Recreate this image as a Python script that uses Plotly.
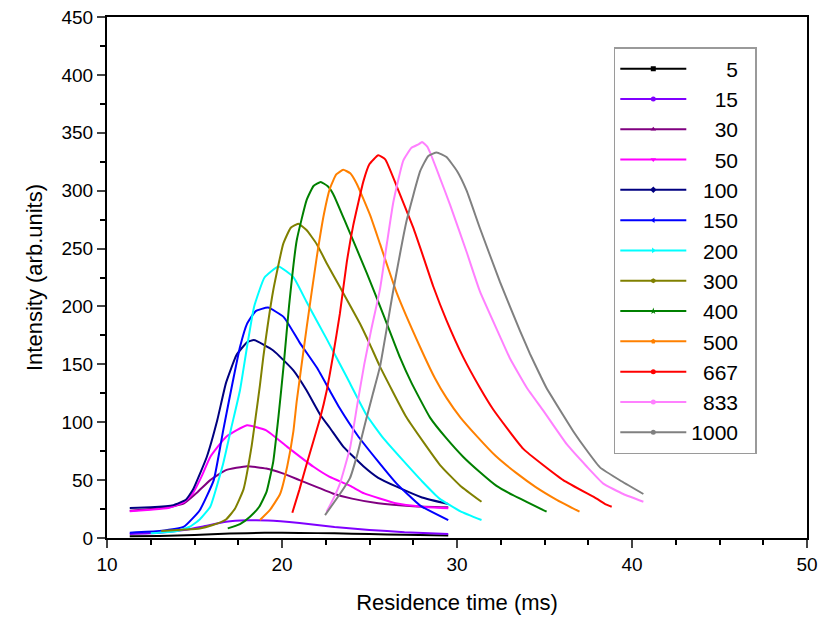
import plotly.graph_objects as go

# ---------------- data ----------------
names = ["5", "15", "30", "50", "100", "150", "200", "300", "400", "500", "667", "833", "1000"]
colors = ["#000000", "#8000FF", "#800080", "#FF00FF", "#000080", "#0000FF", "#00FFFF",
          "#808000", "#008000", "#FF8000", "#FF0000", "#FF80FF", "#808080"]
symbols = ["square", "circle", "triangle-up", "triangle-down", "diamond", "triangle-left",
           "triangle-right", "hexagon", "star", "pentagon", "circle", "circle", "circle"]

x_5 = [11.3, 13, 15, 17, 19, 21, 23, 25, 27, 29.5]
y_5 = [1.5, 1.8, 2.5, 3.8, 4.5, 4.4, 4.0, 3.4, 2.8, 2.2]

x_15 = [11.3, 13, 14.4, 15.5, 16.8, 18.0, 19.2, 21.0, 23.0, 25, 27, 29.5]
y_15 = [3.4, 4.5, 6.9, 10, 14, 15.3, 15.2, 13, 9.5, 7, 5, 3.5]

x_30 = [11.3, 12.5, 13.5, 14.4, 15.2, 15.9, 16.8, 18.0, 19.1, 20, 21, 22, 22.9, 24.0, 25.5, 27.5, 29.5]
y_30 = [23.5, 25, 26.5, 30, 40, 50, 58.6, 62, 60, 56, 50, 44, 38.5, 34, 30, 27.5, 26.5]

x_50 = [11.3, 12.5, 13.5, 14.4, 14.9, 15.4, 15.9, 16.8, 18.0, 19.1, 20.3, 21.8, 22.7, 23.9, 24.7, 26.5, 28, 29.5]
y_50 = [23, 24.5, 26, 31, 38.5, 53, 70, 87.3, 97.4, 93, 78.7, 61.5, 53, 45, 38.5, 30, 27, 25.6]

x_100 = [11.3, 12.5, 13.8, 14.5, 14.9, 15.7, 16.3, 16.8, 17.4, 18.0, 18.4, 19.5, 20.65, 21.4,
         22.2, 22.74, 23.5, 24.65, 25.5, 26.55, 28, 29.5]
y_100 = [26, 26.5, 28.4, 33, 41.4, 70, 101.7, 134, 158, 169, 171, 162, 144.8, 127.6,
         106, 95, 79, 62, 52, 44.3, 35, 29.3]

x_150 = [11.3, 13, 14.4, 15.3, 16.1, 16.64, 17.2, 17.6, 18.0, 18.5, 19.2, 20.1, 21.0, 22.0,
         22.74, 23.3, 24.3, 25.5, 26.55, 27.9, 29.5]
y_150 = [4.6, 6, 9.8, 24, 50, 93, 136, 165, 185, 196, 199, 190.8, 169, 147,
         127, 112, 89, 66, 47, 28, 15.5]

x_200 = [12.5, 14.0, 14.74, 15.3, 15.9, 16.64, 17.1, 17.6, 18.0, 18.4, 19.0, 19.8, 20.65, 21.4,
         22.55, 23.7, 24.84, 25.8, 26.9, 28, 29.0, 30.2, 31.4]
y_200 = [4, 6, 9.8, 16, 27, 64.4, 95, 127.6, 165, 199.4, 225, 234.5, 225.3, 204,
         172, 139, 106, 86, 67.2, 49, 34, 23, 15.5]

x_300 = [13.1, 14.5, 15.3, 16.0, 16.8, 17.3, 17.8, 18.25, 18.5, 18.74, 18.93, 19.5, 20.07, 20.5,
         20.93, 21.4, 21.98, 22.6, 23.31, 24.46, 25.03, 25.6, 27.12, 29.03, 30.2, 31.4]
y_300 = [6, 7.3, 8.3, 11, 16, 25, 42, 78, 105, 132, 156, 214, 254, 268,
         271.5, 266, 254, 236, 216.7, 185, 167, 148, 104, 63, 45, 31.3]

x_400 = [16.9, 17.6, 18.17, 18.7, 19.12, 19.5, 19.8, 20.1, 20.4, 20.84, 21.41, 21.8, 22.21, 22.6,
         22.93, 23.7, 24.84, 25.79, 26.74, 27.4, 28.46, 29.4, 30.36, 31.3, 32.26, 33.2, 35.12]
y_400 = [8.3, 12, 18.4, 27, 40, 66, 105, 150, 200, 257, 292, 304, 307.5, 304,
         297, 270, 229, 193, 156, 134, 104, 86, 70, 57, 45, 37, 22.7]

x_500 = [18.74, 19.3, 19.89, 20.3, 20.65, 20.84, 21.41, 21.98, 22.4, 22.74, 23.1, 23.5, 23.9,
         24.27, 25.03, 25.6, 26.55, 27.89, 28.74, 29.4, 30.2, 31.13, 32.2, 33.4, 34.5, 35.7, 37.0]
y_500 = [15.5, 24, 38, 62, 92, 118, 182, 242, 280, 302, 314, 318, 315,
         306, 279, 254, 212, 165, 138, 121, 104, 88, 71, 56, 44, 33, 22.7]

x_667 = [20.59, 21.0, 21.41, 22.17, 22.55, 22.9, 23.31, 23.7, 24.07, 24.65, 25.0, 25.5, 25.9,
         26.55, 27.5, 28.07, 28.65, 29.4, 30.36, 31.3, 32.07, 33.79, 36.07, 37.98, 38.5, 38.84]
y_667 = [21.8, 42, 64, 103, 127, 156, 194, 238, 270, 308, 323, 330.5, 327,
         304, 268, 243, 217, 188, 156, 130, 111, 77, 50, 34, 29, 27]

x_833 = [22.55, 23.0, 23.31, 23.89, 24.3, 24.7, 25.1, 25.6, 26.0, 26.36, 26.93, 27.4, 27.8, 28.0,
         28.3, 28.46, 29.0, 29.6, 30.55, 31.31, 32.46, 33.03, 33.98, 34.93, 36.27, 37.4, 38.36,
         39.5, 40.65]
y_833 = [22.7, 36, 47, 78, 115, 150, 180, 215, 255, 290, 326, 337, 340, 342,
         338, 333, 312, 288, 247, 213, 174, 155, 130, 110, 81, 62, 47,
         38, 31.3]

x_1000 = [22.46, 23.31, 23.89, 24.3, 24.8, 25.2, 25.6, 26.36, 27.12, 27.9, 28.36, 28.84, 29.4,
          30.0, 30.55, 31.3, 32.46, 33.6, 34.17, 34.74, 35.1, 36.07, 36.65, 37.4, 38.17, 39.4, 40.65]
y_1000 = [19.8, 38, 52, 72, 102, 125, 148, 214, 274, 317, 330, 333, 329,
          317, 300, 268, 221, 179, 159, 141, 130, 106, 92, 76, 61, 49, 38]

xs = [x_5, x_15, x_30, x_50, x_100, x_150, x_200, x_300, x_400, x_500, x_667, x_833, x_1000]
ys = [y_5, y_15, y_30, y_50, y_100, y_150, y_200, y_300, y_400, y_500, y_667, y_833, y_1000]

x_ticks = [10, 20, 30, 40, 50]
y_ticks = [0, 50, 100, 150, 200, 250, 300, 350, 400, 450]

FONT = "Arial, Liberation Sans, sans-serif"

fig = go.Figure()

# data curves (no legend entries)
for i, (n, c) in enumerate(zip(names, colors)):
    fig.add_trace(go.Scatter(
        x=xs[i], y=ys[i], mode="lines", name=n,
        line=dict(color=c, width=2, shape="spline", smoothing=0.4),
        showlegend=False, legendgroup=n, hoverinfo="x+y+name"))

# legend entries (line with a small marker, as in the original)
pad = max(len(n) for n in names)
for i, (n, c) in enumerate(zip(names, colors)):
    label = "\u2007" * (pad - len(n)) + n + "\u2007"
    fig.add_trace(go.Scatter(
        x=[None], y=[None], mode="lines+markers", name=label,
        line=dict(color=c, width=2),
        marker=dict(color=c, size=5, symbol=symbols[i]),
        legendgroup=n, showlegend=True))

# the page body adds an 8 px offset, so the figure is sized to the visible area
fig.update_layout(
    width=818, height=609,
    margin=dict(l=99, r=19, t=9, b=79, autoexpand=False),
    paper_bgcolor="white", plot_bgcolor="white",
    font=dict(family=FONT, color="black", size=19),
    legend=dict(
        x=0.724, y=0.9424, xanchor="left", yanchor="top",
        bgcolor="white", bordercolor="#9a9a9a", borderwidth=1.5,
        font=dict(family=FONT, size=21, color="black"),
        tracegroupgap=0, traceorder="grouped", itemwidth=66,
    ),
    xaxis=dict(
        range=[10, 50], tickvals=x_ticks, ticks="outside", ticklen=8, tickwidth=2,
        showline=True, linecolor="black", linewidth=2, mirror=True,
        showgrid=False, zeroline=False, automargin=False, ticklabeloverflow="allow",
        minor=dict(dtick=2.5, tick0=10, ticks="outside", ticklen=5, tickwidth=1.5, tickcolor="black"),
        tickfont=dict(size=19),
        title=dict(text="Residence time (ms)", font=dict(size=22), standoff=21),
    ),
    yaxis=dict(
        range=[0, 450], tickvals=y_ticks, ticks="outside", ticklen=8, tickwidth=2,
        showline=True, linecolor="black", linewidth=2, mirror=True,
        showgrid=False, zeroline=False, automargin=False, ticklabeloverflow="allow",
        minor=dict(dtick=25, tick0=0, ticks="outside", ticklen=5, tickwidth=1.5, tickcolor="black"),
        tickfont=dict(size=19),
        title=dict(text="Intensity (arb.units)", font=dict(size=22), standoff=13),
    ),
)

fig.write_html("out.html")
